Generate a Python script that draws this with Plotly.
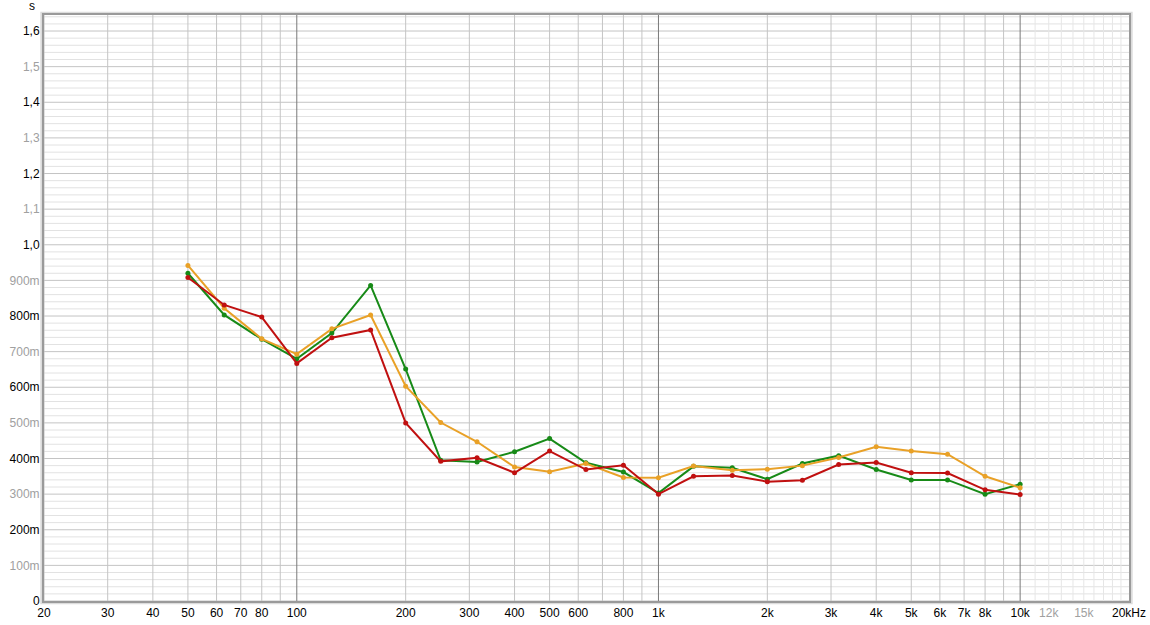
import numpy as np
import plotly.graph_objects as go

freqs = [50, 63, 80, 100, 125, 160, 200, 250, 315, 400, 500, 630, 800, 1000,
         1250, 1600, 2000, 2500, 3150, 4000, 5000, 6300, 8000, 10000]

green = [0.920, 0.803, 0.735, 0.680, 0.752, 0.886, 0.651, 0.395, 0.390, 0.419, 0.456, 0.388,
         0.362, 0.303, 0.378, 0.374, 0.342, 0.386, 0.408, 0.369, 0.340, 0.340, 0.300, 0.328]
orange = [0.942, 0.822, 0.736, 0.693, 0.764, 0.803, 0.603, 0.501, 0.447, 0.376, 0.363, 0.386,
          0.347, 0.346, 0.379, 0.367, 0.370, 0.380, 0.403, 0.433, 0.421, 0.412, 0.350, 0.318]
red = [0.908, 0.831, 0.797, 0.667, 0.739, 0.761, 0.500, 0.392, 0.402, 0.360, 0.421, 0.369,
       0.381, 0.300, 0.350, 0.352, 0.335, 0.339, 0.383, 0.389, 0.360, 0.359, 0.312, 0.299]

x_tick_vals = [20, 30, 40, 50, 60, 70, 80, 100, 200, 300, 400, 500, 600, 800, 1000,
               2000, 3000, 4000, 5000, 6000, 7000, 8000, 10000, 12000, 15000, 20000]
x_tick_text = ["20", "30", "40", "50", "60", "70", "80", "100", "200", "300", "400", "500",
               "600", "800", "1k", "2k", "3k", "4k", "5k", "6k", "7k", "8k", "10k",
               "<span style='color:#a0a0a0'>12k</span>",
               "<span style='color:#a0a0a0'>15k</span>", "20kHz"]

y_tick_vals = [0, 0.1, 0.2, 0.3, 0.4, 0.5, 0.6, 0.7, 0.8, 0.9, 1.0, 1.1, 1.2, 1.3, 1.4, 1.5, 1.6]
y_tick_raw = ["0", "100m", "200m", "300m", "400m", "500m", "600m", "700m", "800m", "900m",
              "1,0", "1,1", "1,2", "1,3", "1,4", "1,5", "1,6"]
y_tick_text = [t if i % 2 == 0 else f"<span style='color:#a0a0a0'>{t}</span>"
               for i, t in enumerate(y_tick_raw)]

YMAX = 1.645

fig = go.Figure()

shapes = []
# horizontal grid
for k in range(0, 83):
    v = k * 0.02
    if v > YMAX:
        break
    major = (k % 5 == 0)
    shapes.append(dict(type="line", xref="paper", yref="y", x0=0, x1=1, y0=v, y1=v,
                       line=dict(color="#c4c4c4" if major else "#e2e2e2", width=1), layer="below"))
# vertical grid
for dec in [10, 100, 1000]:
    for m in range(2, 10):
        f = dec * m
        if f < 20:
            continue
        shapes.append(dict(type="line", xref="x", yref="paper", x0=f, x1=f, y0=0, y1=1,
                           line=dict(color="#c4c4c4", width=1), layer="below"))
for f in range(11000, 20000, 1000):
    shapes.append(dict(type="line", xref="x", yref="paper", x0=f, x1=f, y0=0, y1=1,
                       line=dict(color="#e6e6e6", width=1), layer="below"))
for f in [100, 1000, 10000]:
    shapes.append(dict(type="line", xref="x", yref="paper", x0=f, x1=f, y0=0, y1=1,
                       line=dict(color="#7a7a7a", width=1), layer="below"))
# frame shadow
shapes.append(dict(type="rect", xref="paper", yref="paper", x0=-0.0025, x1=1.0025, y0=-0.004, y1=1.004,
                   line=dict(color="#dcdcdc", width=2), layer="below"))
fig.update_layout(shapes=shapes)

for name, vals, col in [("green", green, "#178a17"), ("orange", orange, "#e9a127"), ("red", red, "#c01010")]:
    fig.add_trace(go.Scatter(x=freqs, y=vals, mode="lines+markers", name=name,
                             line=dict(color=col, width=2), marker=dict(color=col, size=5),
                             showlegend=False))

fig.add_annotation(text="s", xref="paper", yref="paper", x=-0.0065, y=1.0, xanchor="right", yanchor="bottom",
                   showarrow=False, font=dict(size=12, color="#000"), yshift=0)

fig.update_layout(
    width=1150, height=625,
    margin=dict(l=44, r=21, t=15, b=24, autoexpand=False),
    paper_bgcolor="white", plot_bgcolor="white",
    font=dict(family="Liberation Sans, Arial, sans-serif", size=12, color="#000"),
    xaxis=dict(type="log", range=[np.log10(20), np.log10(20000)], tickvals=x_tick_vals,
               ticktext=x_tick_text, showgrid=False, zeroline=False, ticks="", automargin=False,
               showline=True, linecolor="#9a9a9a", linewidth=2, mirror=True),
    yaxis=dict(range=[0, YMAX], tickvals=y_tick_vals, ticktext=y_tick_text, showgrid=False,
               zeroline=False, ticks="", automargin=False,
               showline=True, linecolor="#9a9a9a", linewidth=2, mirror=True),
)

fig.write_html("out.html", config={"displayModeBar": False},
               post_script="document.body.style.margin='0';document.body.style.overflow='hidden';")
